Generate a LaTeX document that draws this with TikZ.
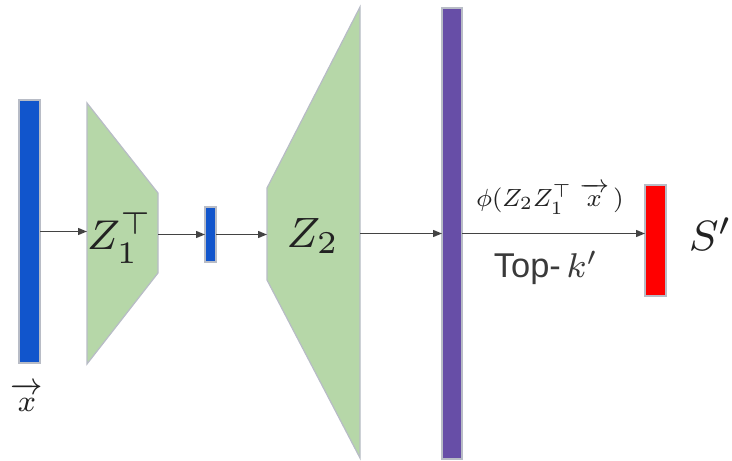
\documentclass[tikz,border=0pt]{standalone}
\usepackage{graphicx}
\usepackage{fix-cm}
\usepackage{fontspec}
\newfontfamily\sansf{Liberation Sans}
\usetikzlibrary{arrows.meta}
\definecolor{barblue}{HTML}{1155CC}
\definecolor{trapgreen}{HTML}{B6D7A8}
\definecolor{barpurple}{HTML}{674EA7}
\definecolor{barred}{HTML}{FF0000}
\definecolor{edgegray}{HTML}{B8BCC6}
\definecolor{arrowgray}{HTML}{434343}
\definecolor{textgray}{HTML}{222222}
\definecolor{topgray}{HTML}{3A3A3A}
\newcommand{\biglbl}[2]{\scalebox{#1}{\fontsize{8}{9}\selectfont #2}}
\tikzset{
  bar/.style={draw=edgegray, line width=1.4pt, inner sep=0pt, outer sep=0pt},
  trap/.style={draw=edgegray, fill=trapgreen, line width=1.2pt, line join=miter},
  conn/.style={draw=arrowgray, line width=1.3pt, -{Triangle[length=9pt,width=7pt]}},
  lbl/.style={text=textgray, inner sep=0pt}
}
\begin{document}
\begin{tikzpicture}[x=1pt,y=-1pt]
\useasboundingbox (0,0) rectangle (732,461);
% bars
\node[bar, fill=barblue, minimum width=21pt, minimum height=263pt] (xbar) at (29.5,231.5) {};
\node[bar, fill=barblue, minimum width=11pt, minimum height=55pt] (mid) at (210.5,234.5) {};
\node[bar, fill=barpurple, minimum width=20pt, minimum height=451pt] (purple) at (452,233.5) {};
\node[bar, fill=barred, minimum width=21pt, minimum height=111pt] (red) at (655.5,240.5) {};
% trapezoids
\draw[trap] (87,103) -- (158,193) -- (158,273) -- (87,364) -- cycle;
\draw[trap] (267,188) -- (360,7) -- (360,458) -- (267,280) -- cycle;
\coordinate (z1in) at (87,231.5);
\coordinate (z1out) at (158,234.5);
\coordinate (z2in) at (267,234.5);
\coordinate (z2out) at (360,233.5);
% labels
\node[lbl] (lz1) at (120,238) {\biglbl{5.2}{$Z_1^{\top}$}};
\node[lbl] (lz2) at (313,236) {\biglbl{5.3}{$Z_2$}};
\node[lbl] (lx) at (27,397) {\biglbl{3.8}{$\overrightarrow{\,x\vphantom{l}\,}$}};
\node[lbl] (lphi) at (550,199) {\biglbl{3.1}{$\phi(Z_2Z_1^{\top}\;\overrightarrow{\;x\vphantom{Z}\;}\,)$}};
\node[lbl, text=topgray] (ltop) at (546,268) {\biglbl{4.3}{{\sansf Top-}\,$k'$}};
\node[lbl] (ls) at (711,234) {\biglbl{5.3}{$S'$}};
% connectors
\draw[conn] (xbar.east) -- (z1in);
\draw[conn] (z1out) -- (mid.west);
\draw[conn] (mid.east) -- (z2in);
\draw[conn] (z2out) -- (purple.west);
\draw[conn] (purple.east) -- (purple.east -| red.west);
\end{tikzpicture}
\end{document}
